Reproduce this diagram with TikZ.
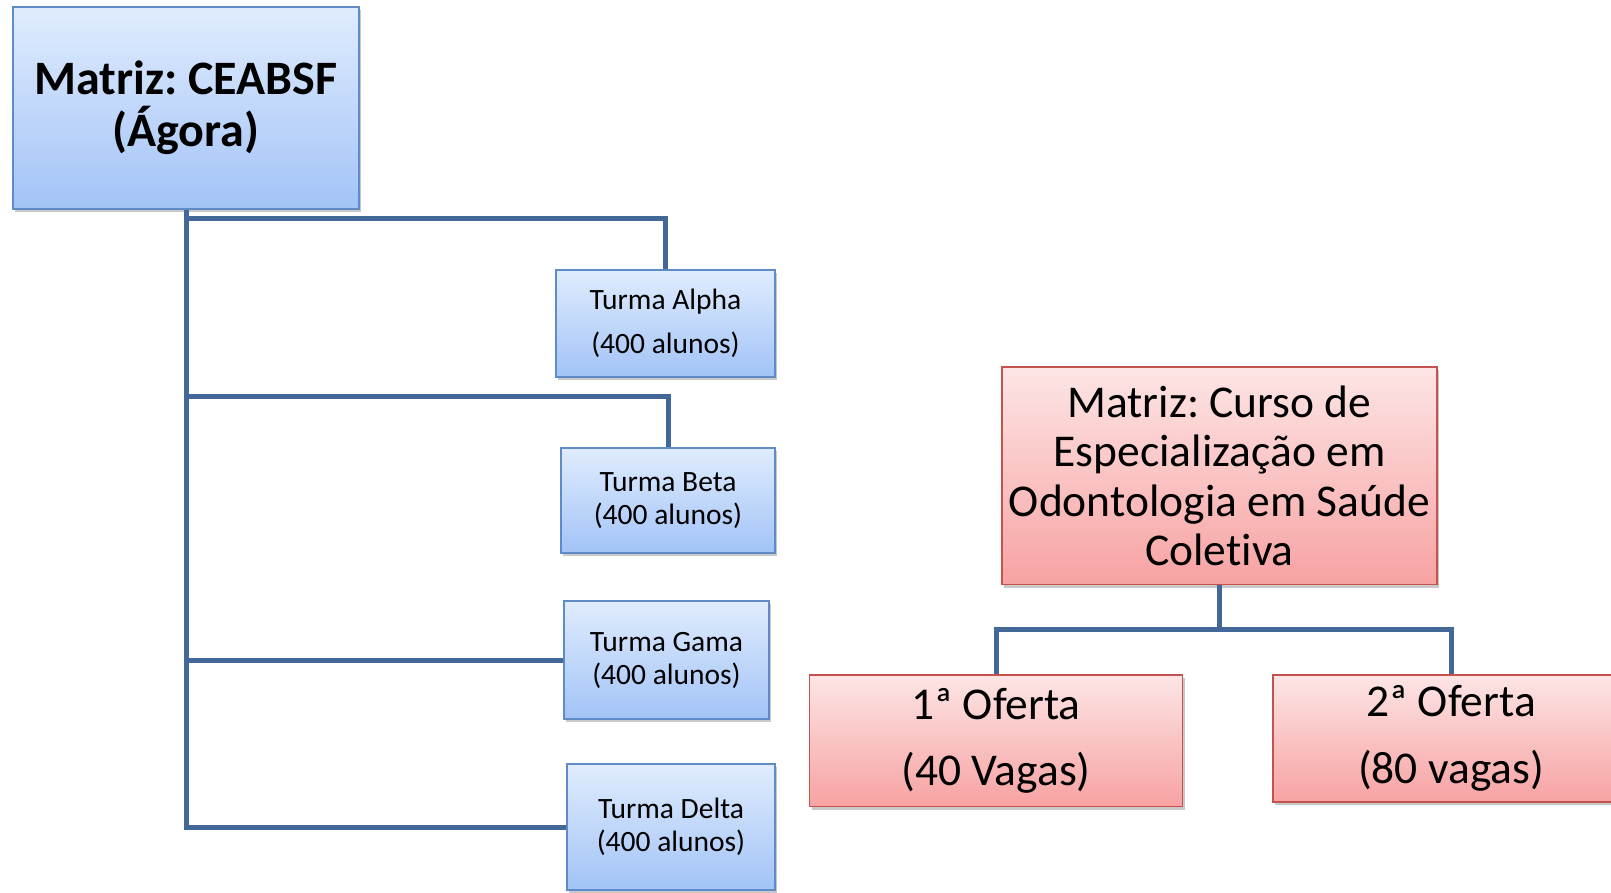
\documentclass[tikz,border=0pt]{standalone}
\usepackage{fontspec}
\setmainfont[Ligatures=NoCommon]{Carlito}
\usetikzlibrary{shadows}
\definecolor{bluetop}{RGB}{224,236,253}
\definecolor{bluebot}{RGB}{162,195,247}
\definecolor{blueborder}{RGB}{95,140,198}
\definecolor{redtop}{RGB}{253,229,229}
\definecolor{redbot}{RGB}{247,162,162}
\definecolor{redborder}{RGB}{196,82,78}
\definecolor{conn}{RGB}{65,104,152}
\frenchspacing
\tikzset{
  bluebox/.style={draw=blueborder, line width=1.5pt, top color=bluetop, bottom color=bluebot,
    inner sep=0pt, align=center, anchor=center,
    drop shadow={shadow xshift=2pt, shadow yshift=-3pt, opacity=0.35, fill=black!60}},
  redbox/.style={draw=redborder, line width=1.5pt, top color=redtop, bottom color=redbot,
    inner sep=0pt, align=center, anchor=center,
    drop shadow={shadow xshift=2pt, shadow yshift=-3pt, opacity=0.35, fill=black!60}},
  conline/.style={draw=conn, line width=5pt},
  smallfont/.style={font=\fontsize{29.5}{33}\selectfont},
  bigfont/.style={font=\fontsize{45.5}{49.6}\selectfont},
}
\begin{document}
\begin{tikzpicture}[x=1pt,y=1pt]
\clip (0,0) rectangle (1611,-892);
\fill[white] (0,0) rectangle (1611,-892);

% left tree
\node[bluebox, minimum width=346pt, minimum height=202pt, font=\fontsize{48}{52}\selectfont\bfseries]
  (m) at (186,-108) {Matriz: CEABSF\\(Ágora)};
\node[bluebox, smallfont, minimum width=219pt, minimum height=107pt]
  (alpha) at (665.5,-323.5) {Turma Alpha\\[11pt](400 alunos)};
\node[bluebox, smallfont, minimum width=214pt, minimum height=105pt]
  (beta) at (668,-500.5) {Turma Beta\\(400 alunos)};
\node[bluebox, smallfont, minimum width=205pt, minimum height=118pt]
  (gama) at (666.5,-660) {Turma Gama\\(400 alunos)};
\node[bluebox, smallfont, minimum width=208pt, minimum height=126pt]
  (delta) at (671,-827) {Turma Delta\\(400 alunos)};

\draw[conline] (m.south) -- ++(0,-9) -| (alpha.north);
\draw[conline] (m.south |- 0,-396) -| (beta.north);
\draw[conline] (m.south) |- (gama.west);
\draw[conline] (m.south) |- (delta.west);

% right tree
\node[redbox, bigfont, minimum width=435pt, minimum height=217.6pt]
  (r) at (1219.5,-475.8) {Matriz: Curso de\\Especialização em\\Odontologia em Saúde\\Coletiva};
\node[redbox, bigfont, minimum width=373pt, minimum height=131.5pt]
  (o1) at (996,-740.75) {1ª Oferta\\[17pt](40 Vagas)};
\node[redbox, bigfont, minimum width=356pt, minimum height=127pt]
  (o2) at (1451,-738.5) {2ª Oferta\\[17pt](80 vagas)};

\draw[conline] (r.south) -- ++(0,-44.4) -| (o1.north);
\draw[conline] (r.south) -- ++(0,-44.4) -| (o2.north);
\end{tikzpicture}
\end{document}
